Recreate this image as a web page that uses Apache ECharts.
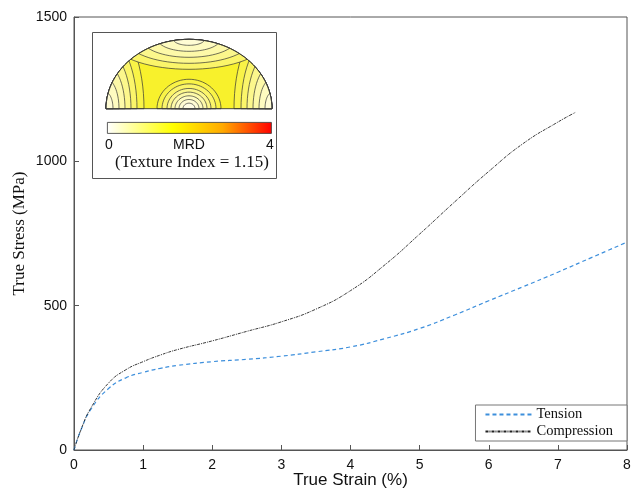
<!DOCTYPE html>
<html>
<head>
<meta charset="utf-8">
<script src="https://cdn.jsdelivr.net/npm/echarts@6/dist/echarts.min.js"></script>
<style>
  html, body { margin: 0; padding: 0; background: #fff; }
  #main { width: 631px; height: 490px; }
</style>
</head>
<body>
<div id="main"></div>
<script>
// strain (%) points
var tensionStrain = [0, 0.1, 0.25, 0.5, 0.75, 1, 1.25, 1.5, 2, 2.5, 3, 3.5, 4, 4.5, 5, 5.5, 6, 6.5, 7, 7.5, 8];
var tensionStress = [0, 69, 143, 213, 250, 269, 283, 293, 306, 314, 325, 340, 357, 386, 421, 467, 517, 566, 616, 668, 720];

var compStrain = [0, 0.1, 0.25, 0.5, 0.75, 1, 1.25, 1.5, 2, 2.5, 3, 3.5, 4, 4.5, 5, 5.5, 6, 6.5, 7, 7.25];
var compStress = [0, 70, 148, 232, 278, 306, 329, 348, 378, 411, 444, 488, 552, 642, 748, 858, 965, 1062, 1136, 1169];

function pairs(xs, ys) {
    var out = [];
    for (var i = 0; i < xs.length; i++) out.push([xs[i], ys[i]]);
    return out;
}

// ---- pole figure inset (decoration only), page pixels ----
var PX = 189, PY = 108.7, R = 83, SY = 0.836;

function ellipsePts(cx, cy, rx, ry) {
    var pts = [];
    for (var k = 0; k < 72; k++) {
        var a = 2 * Math.PI * k / 72;
        pts.push([cx + rx * Math.cos(a), cy + ry * Math.sin(a)]);
    }
    return pts;
}
var boundary = [];
for (var k = 0; k <= 60; k++) {
    var a = Math.PI + Math.PI * k / 60;
    boundary.push([PX + R * Math.cos(a), PY + R * SY * Math.sin(a)]);
}
function side(a, b, p) {
    return (b[0] - a[0]) * (p[1] - a[1]) - (b[1] - a[1]) * (p[0] - a[0]);
}
var bSign = side(boundary[0], boundary[1], [PX, PY - 20]) > 0 ? 1 : -1;
// clip a convex shape to the half disk
function clip(subject) {
    var out = subject;
    for (var i = 0; i < boundary.length; i++) {
        var a = boundary[i], b = boundary[(i + 1) % boundary.length];
        var inp = out;
        out = [];
        for (var j = 0; j < inp.length; j++) {
            var p = inp[j], q = inp[(j + 1) % inp.length];
            var sp = side(a, b, p) * bSign, sq = side(a, b, q) * bSign;
            var t = sp / (sp - sq);
            if (sp >= 0) {
                out.push(p);
                if (sq < 0) out.push([p[0] + t * (q[0] - p[0]), p[1] + t * (q[1] - p[1])]);
            } else if (sq >= 0) {
                out.push([p[0] + t * (q[0] - p[0]), p[1] + t * (q[1] - p[1])]);
            }
        }
        if (!out.length) break;
    }
    return out;
}
var shades = ['#f9f347', '#fbf56a', '#fcf78c', '#fdf9a8', '#fefbc0', '#fffcd4', '#fffde4'];
var pole = [{
    type: 'polygon', z: 51, shape: { points: boundary },
    style: { fill: '#f8f12c', stroke: null }
}];
function contour(cx, cy, rx, ry, fill) {
    pole.push({
        type: 'polygon', z: 52, shape: { points: clip(ellipsePts(cx, cy, rx, ry)) },
        style: { fill: fill, stroke: '#333', lineWidth: 0.7 }
    });
}
// corner contours
[38, 31, 25, 19, 13, 7].forEach(function (rx, i) {
    contour(PX - R, PY, rx, rx * 2.3, shades[i]);
    contour(PX + R, PY, rx, rx * 2.3, shades[i]);
});
// top contours
[30, 24, 18, 12, 6].forEach(function (ry, i) {
    contour(PX, PY - R * SY, ry * 2.6, ry, shades[i + 1]);
});
// central rings
[32, 27, 22, 18, 14, 10, 6].forEach(function (r, i) {
    contour(PX, PY, r, r * 0.92, shades[i]);
});
pole.push({
    type: 'polygon', z: 53, shape: { points: boundary },
    style: { fill: null, stroke: '#333', lineWidth: 0.9 }
});

var chart = echarts.init(document.getElementById('main'), null, { renderer: 'canvas' });

chart.setOption({
    animation: false,
    backgroundColor: '#fff',
    grid: {
        left: 74, right: 4, top: 17, bottom: 40, outerBoundsMode: 'none', containLabel: false,
        show: true, borderColor: '#555', borderWidth: 1
    },
    xAxis: {
        type: 'value', min: 0, max: 8, interval: 1,
        name: 'True Strain (%)', nameLocation: 'middle', nameGap: 22, nameMoveOverlap: false,
        nameTextStyle: { fontFamily: 'Liberation Sans', fontSize: 17, color: '#111' },
        axisLine: { lineStyle: { color: '#555' } },
        axisTick: { inside: true, length: 5, lineStyle: { color: '#555' } },
        axisLabel: { fontFamily: 'Liberation Sans', fontSize: 14, color: '#111', margin: 8 },
        splitLine: { show: false }
    },
    yAxis: {
        type: 'value', min: 0, max: 1500, interval: 500,
        name: 'True Stress (MPa)', nameLocation: 'middle', nameGap: 46, nameMoveOverlap: false,
        nameTextStyle: { fontFamily: 'Liberation Serif', fontSize: 17, color: '#111' },
        axisLine: { lineStyle: { color: '#555' } },
        axisTick: { inside: true, length: 5, lineStyle: { color: '#555' } },
        axisLabel: { fontFamily: 'Liberation Sans', fontSize: 14, color: '#111', margin: 7, formatter: function (v) { return String(v); } },
        splitLine: { show: false }
    },
    legend: {
        orient: 'vertical', right: 4, bottom: 49,
        data: [
            { name: 'Tension', itemStyle: { opacity: 0 } },
            { name: 'Compression', itemStyle: { opacity: 0 } }
        ],
        backgroundColor: '#fff', borderColor: '#777', borderWidth: 1, borderRadius: 0,
        padding: [2, 14, 2, 9], itemGap: 2, itemWidth: 46, itemHeight: 12,
        textStyle: { fontFamily: 'Liberation Serif', fontSize: 14.5, color: '#111' }
    },
    series: [
        {
            name: 'Tension', type: 'line', smooth: 0.5, symbol: 'none',
            data: pairs(tensionStrain, tensionStress),
            lineStyle: { color: '#3d8fdc', width: 1.2, type: [4, 3] },
            itemStyle: { color: '#3d8fdc' }
        },
        {
            name: 'Compression', type: 'line', smooth: 0.5, symbol: 'none',
            data: pairs(compStrain, compStress),
            lineStyle: { color: '#222', width: 0.9, type: [3, 1, 1, 1] },
            itemStyle: { color: '#222' }
        }
    ],
    graphic: [
        {
            type: 'rect', left: 92, top: 32, z: 50,
            shape: { width: 184, height: 146 },
            style: { fill: '#fff', stroke: '#555', lineWidth: 1 }
        }
    ].concat(pole).concat([
        {
            type: 'rect', left: 107, top: 122, z: 52,
            shape: { width: 164, height: 11 },
            style: {
                stroke: '#333', lineWidth: 0.8,
                fill: new echarts.graphic.LinearGradient(0, 0, 1, 0, [
                    { offset: 0, color: '#ffffff' },
                    { offset: 0.4, color: '#ffff00' },
                    { offset: 0.7, color: '#ffaa00' },
                    { offset: 1, color: '#ff0000' }
                ])
            }
        },
        { type: 'text', x: 109, y: 145, z: 52, style: { text: '0', fontFamily: 'Liberation Sans', fontSize: 14, fill: '#111', align: 'center', verticalAlign: 'middle' } },
        { type: 'text', x: 189, y: 145, z: 52, style: { text: 'MRD', fontFamily: 'Liberation Sans', fontSize: 14, fill: '#111', align: 'center', verticalAlign: 'middle' } },
        { type: 'text', x: 270, y: 145, z: 52, style: { text: '4', fontFamily: 'Liberation Sans', fontSize: 14, fill: '#111', align: 'center', verticalAlign: 'middle' } },
        { type: 'text', x: 192, y: 163, z: 52, style: { text: '(Texture Index = 1.15)', fontFamily: 'Liberation Serif', fontSize: 17, fill: '#111', align: 'center', verticalAlign: 'middle' } }
    ])
});
</script>
</body>
</html>
